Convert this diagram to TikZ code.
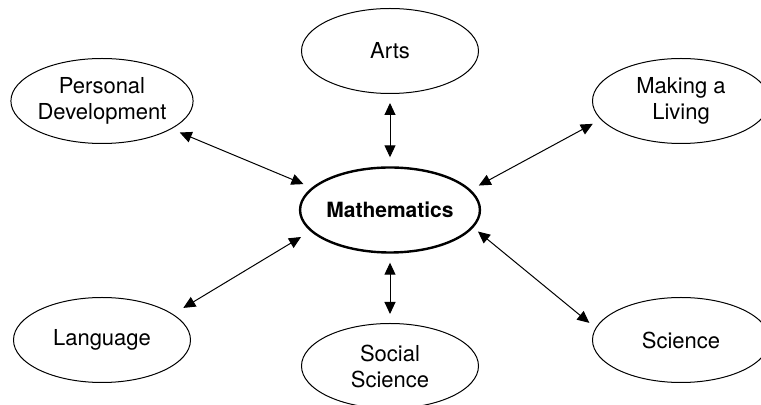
\documentclass[tikz,border=0pt]{standalone}
\usepackage{fontspec}
\setmainfont{TeX Gyre Heros}
\usepackage{pgf,tikz}
\usetikzlibrary{arrows.meta,shapes.geometric}

\begin{document}
\begin{tikzpicture}[line join=round,>={Triangle[length=6pt,width=5.5pt]},x=0.5pt,y=-0.5pt,
      topic/.style={ellipse,draw,line width=0.5pt,minimum width=88.5pt,minimum height=42.5pt,
                    inner sep=0pt,align=center,font=\fontsize{11}{13}\selectfont},
      hub/.style={topic,line width=1.2pt,font=\fontsize{10.5}{13}\selectfont\bfseries},
      link/.style={<->,line width=0.5pt,shorten <=4.5pt,shorten >=4.5pt}]
              \useasboundingbox (0,0) rectangle (761,405);

              \node[hub]   (math) at (390,210) {Mathematics};
              \node[topic] (arts) at (390,51)  {Arts};
              \node[topic] (pers) at (102,101) {Personal\\Development};
              \node[topic] (earn) at (681,101) {Making a\\Living};
              \node[topic] (lang) at (102,340) {Language};
              \node[topic] (soci) at (390,366) {Social\\Science};
              \node[topic] (scie) at (681,340) {Science};

              \draw[link] (pers.-22) -- (math.164);
              \draw[link] (arts.south) -- (math.north);
              \draw[link] (earn.193) -- (math.14);
              \draw[link,shorten <=6pt,shorten >=5.5pt] (lang.20) -- (math.195);
              \draw[link] (math.south) -- (soci.north);
              \draw[link,shorten <=3pt,shorten >=4pt] (math.-12) -- (scie.172);

             \end{tikzpicture}
\end{document}
